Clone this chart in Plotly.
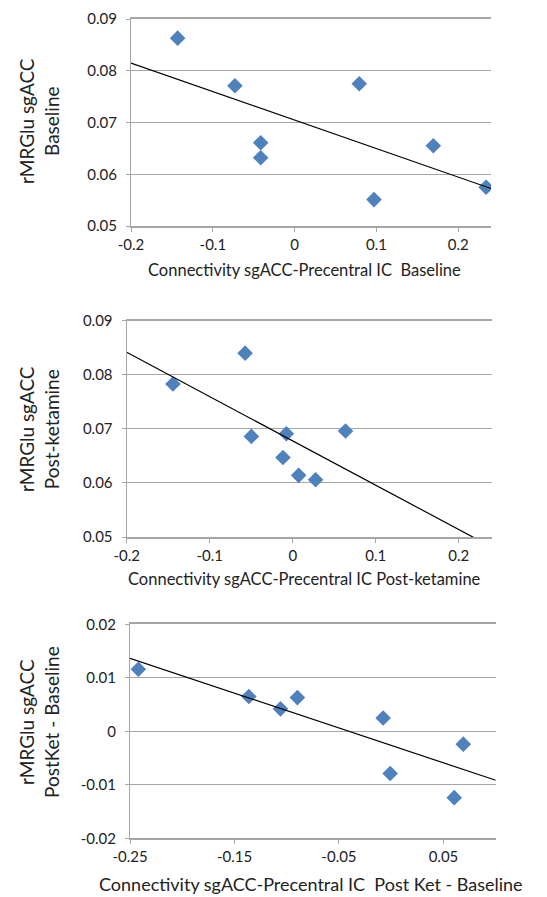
import numpy as np
import plotly.graph_objects as go

# ---- Data ----
x_baseline = [-0.143, -0.073, -0.0415, -0.0415, 0.079, 0.097, 0.1695, 0.234]
y_baseline = [0.0863, 0.0771, 0.0661, 0.0632, 0.0775, 0.0551, 0.0655, 0.0575]

x_postket = [-0.0574, -0.1443, -0.0498, -0.0077, 0.0636, -0.0118, 0.0071, 0.0275]
y_postket = [0.0840, 0.0783, 0.0686, 0.0691, 0.0696, 0.0647, 0.0614, 0.0606]

x_diff = [-0.242, -0.1363, -0.106, -0.0898, -0.0077, -0.001, 0.069, 0.0603]
y_diff = [0.0116, 0.0065, 0.0042, 0.0063, 0.0025, -0.0079, -0.0024, -0.0124]

# tick labels
xt_12 = ["-0.2", "-0.1", "0", "0.1", "0.2"]
yt_12 = ["0.05", "0.06", "0.07", "0.08", "0.09"]
xt_3 = ["-0.25", "-0.15", "-0.05", "0.05"]
yt_3 = ["-0.02", "-0.01", "0", "0.01", "0.02"]

xtitles = ["Connectivity sgACC-Precentral IC  Baseline",
           "Connectivity sgACC-Precentral IC Post-ketamine",
           "Connectivity sgACC-Precentral IC  Post Ket - Baseline"]
ytitles = ["rMRGlu sgACC<br>Baseline",
           "rMRGlu sgACC<br>Post-ketamine",
           "rMRGlu sgACC<br>PostKet - Baseline"]

# page body has a default 8px margin: lay out in window pixels, shift by OFF
OFF = 8
W, H = 547 - OFF, 897 - OFF
FONT = "Lato, Carlito, Calibri, sans-serif"
BLUE = "#4F81BD"
GRID = "#A6A6A6"

panels = [
    dict(x=x_baseline, y=y_baseline, xr=[-0.2, 0.24], yr=[0.05, 0.09], xt=xt_12, yt=yt_12,
         px=(131, 491), py=(19, 226), ytc=(39, 121), xtc=(305, 270), xs=16.5),
    dict(x=x_postket, y=y_postket, xr=[-0.2, 0.24], yr=[0.05, 0.09], xt=xt_12, yt=yt_12,
         px=(126.7, 492), py=(320.7, 537), ytc=(39, 429), xtc=(305, 579), xs=16.5),
    dict(x=x_diff, y=y_diff, xr=[-0.25, 0.1], yr=[-0.02, 0.02], xt=xt_3, yt=yt_3,
         px=(130, 495.7), py=(624.3, 838.3), ytc=(39, 722), xtc=(311, 884), xs=18),
]


def fx(v):
    return (v - OFF) / W


def fy(v):
    return 1 - (v - OFF) / H


fig = go.Figure()
layout = dict(width=W, height=H, margin=dict(l=0, r=0, t=0, b=0, pad=0, autoexpand=False),
              paper_bgcolor="white", plot_bgcolor="white", showlegend=False,
              font=dict(family=FONT, color="#222222"))
annotations = []

for i, p in enumerate(panels):
    n = "" if i == 0 else str(i + 1)
    xa, ya = "x" + n, "y" + n
    fig.add_trace(go.Scatter(x=p["x"], y=p["y"], mode="markers", xaxis=xa, yaxis=ya,
                             marker=dict(symbol="diamond", size=12, color=BLUE,
                                         line=dict(width=0))))
    slope, icpt = np.polyfit(p["x"], p["y"], 1)
    lx = np.array(p["xr"])
    fig.add_trace(go.Scatter(x=lx, y=slope * lx + icpt, mode="lines", xaxis=xa, yaxis=ya,
                             line=dict(color="black", width=1.2)))
    xtv = [float(s) for s in p["xt"]]
    ytv = [float(s) for s in p["yt"]]
    xr = [p["xr"][0] - 1e-9, p["xr"][1]]
    yr = [p["yr"][0] - 1e-9, p["yr"][1] + 1e-9]
    layout["xaxis" + n] = dict(domain=[fx(p["px"][0]), fx(p["px"][1])], range=xr,
                               anchor=ya, tickmode="array", tickvals=xtv, ticktext=p["xt"],
                               showgrid=False, ticklabeloverflow="allow", mirror=True,
                               zeroline=False, showline=True, linecolor=GRID, linewidth=1.5,
                               ticks="outside", ticklen=4, tickcolor=GRID, automargin=False,
                               tickfont=dict(size=15, family=FONT, color="#222222"))
    layout["yaxis" + n] = dict(domain=[fy(p["py"][1]), fy(p["py"][0])], range=yr,
                               anchor=xa, tickmode="array", tickvals=ytv, ticktext=p["yt"],
                               showgrid=True, gridcolor=GRID, ticklabeloverflow="allow",
                               gridwidth=1.3, zeroline=False, showline=True, linecolor=GRID,
                               linewidth=1.3, ticks="outside", ticklen=4, tickcolor=GRID,
                               automargin=False,
                               tickfont=dict(size=15, family=FONT, color="#222222"),
                               ticklabelstandoff=6)
    annotations.append(dict(text=ytitles[i], x=fx(p["ytc"][0]), y=fy(p["ytc"][1]),
                            xref="paper", yref="paper", showarrow=False, textangle=-90,
                            xanchor="center", yanchor="middle",
                            font=dict(size=19, family=FONT, color="#222222")))
    annotations.append(dict(text=xtitles[i], x=fx(p["xtc"][0]), y=fy(p["xtc"][1]),
                            xref="paper", yref="paper", showarrow=False,
                            xanchor="center", yanchor="middle",
                            font=dict(size=p["xs"], family=FONT, color="#222222")))

layout["annotations"] = annotations
fig.update_layout(**layout)
fig.write_html("out.html", config={"displayModeBar": False})
